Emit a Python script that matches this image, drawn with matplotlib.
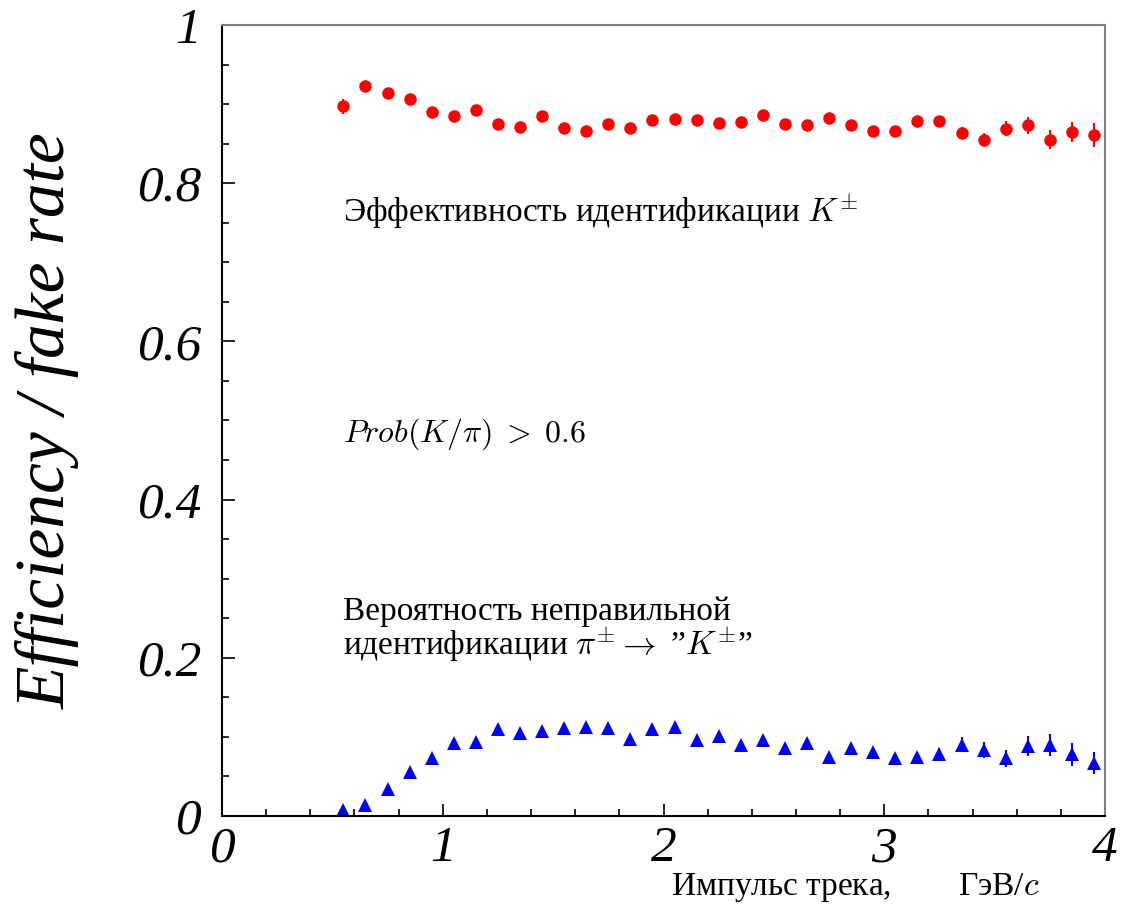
import matplotlib
matplotlib.use("Agg")
import matplotlib.pyplot as plt
from matplotlib.ticker import MultipleLocator, FuncFormatter

plt.rcParams['mathtext.fontset'] = 'cm'
plt.rcParams['font.family'] = ['Liberation Serif', 'DejaVu Serif']

# track momentum bin centres, GeV/c
p = [0.55, 0.65, 0.75, 0.85, 0.95, 1.05, 1.15, 1.25, 1.35, 1.45,
     1.55, 1.65, 1.75, 1.85, 1.95, 2.05, 2.15, 2.25, 2.35, 2.45,
     2.55, 2.65, 2.75, 2.85, 2.95, 3.05, 3.15, 3.25, 3.35, 3.45,
     3.55, 3.65, 3.75, 3.85, 3.95]

# K identification efficiency
eff = [0.897, 0.923, 0.914, 0.906, 0.890, 0.885, 0.892, 0.875, 0.871, 0.885,
       0.870, 0.866, 0.875, 0.870, 0.880, 0.881, 0.880, 0.876, 0.877, 0.886,
       0.875, 0.874, 0.883, 0.874, 0.866, 0.866, 0.879, 0.879, 0.863, 0.855,
       0.869, 0.873, 0.855, 0.865, 0.861]
eff_err = [0.009, 0.004, 0.004, 0.004, 0.004, 0.004, 0.004, 0.004, 0.004, 0.004,
           0.004, 0.004, 0.004, 0.004, 0.004, 0.004, 0.004, 0.004, 0.004, 0.004,
           0.004, 0.004, 0.004, 0.005, 0.005, 0.005, 0.005, 0.006, 0.0075, 0.009,
           0.0095, 0.011, 0.012, 0.013, 0.015]

# pi -> "K" misidentification probability
fake = [0.007, 0.0135, 0.034, 0.056, 0.073, 0.092, 0.094, 0.110, 0.105, 0.108,
        0.111, 0.112, 0.111, 0.097, 0.110, 0.113, 0.096, 0.1015, 0.090, 0.096,
        0.086, 0.092, 0.075, 0.086, 0.081, 0.073, 0.075, 0.079, 0.090, 0.083,
        0.073, 0.088, 0.090, 0.078, 0.067]
fake_err = [0.002, 0.002, 0.003, 0.003, 0.003, 0.003, 0.003, 0.003, 0.003, 0.003,
            0.003, 0.003, 0.003, 0.003, 0.003, 0.003, 0.003, 0.003, 0.003, 0.003,
            0.004, 0.004, 0.004, 0.004, 0.004, 0.004, 0.005, 0.0065, 0.0095, 0.010,
            0.0105, 0.0126, 0.0137, 0.0147, 0.0145]

fig = plt.figure(figsize=(11.23, 9.14), dpi=100)
ax = fig.add_axes([222 / 1123, 1 - 816 / 914, 883 / 1123, 791 / 914])

ax.errorbar(p, eff, yerr=eff_err, fmt='o', color='#ff0000', ms=9,
            elinewidth=1.5, capsize=0, mew=0)
ax.errorbar(p, fake, yerr=fake_err, fmt='^', color='#0000ff', ms=9.5,
            elinewidth=1.5, capsize=0, mew=0)

ax.set_xlim(0, 4)
ax.set_ylim(0, 1)
ax.xaxis.set_major_locator(MultipleLocator(1))
ax.xaxis.set_minor_locator(MultipleLocator(0.2))
ax.yaxis.set_major_locator(MultipleLocator(0.2))
ax.yaxis.set_minor_locator(MultipleLocator(0.05))
ax.xaxis.set_major_formatter(FuncFormatter(lambda v, pos: f"{v:g}"))
ax.yaxis.set_major_formatter(FuncFormatter(lambda v, pos: f"{v:g}"))

ax.tick_params(axis='both', which='both', direction='in', top=False, right=False,
               width=1.2, color='black')
ax.tick_params(axis='x', which='major', length=9, pad=7)
ax.tick_params(axis='x', which='minor', length=5)
ax.tick_params(axis='y', which='major', length=9, pad=15)
ax.tick_params(axis='y', which='minor', length=5)
for lab in ax.get_xticklabels() + ax.get_yticklabels():
    lab.set_fontstyle('italic')
    lab.set_fontsize(37)

for s in ['left', 'bottom']:
    ax.spines[s].set_linewidth(1.5)
    ax.spines[s].set_color('black')
for s in ['top', 'right']:
    ax.spines[s].set_linewidth(1.5)
    ax.spines[s].set_color('#808080')

ax.set_ylabel('Efficiency / fake rate', fontsize=50, fontstyle='italic', va='center')
ax.yaxis.set_label_coords(-0.197, 0.5)

ax.text(0.548, 0.751, 'Эффективность идентификации $K^{\\pm}$',
        fontsize=24, va='baseline', ha='left')
ax.text(0.548, 0.473, '$Prob(K/\\pi)\\;>\\;0.6$', fontsize=23, va='baseline', ha='left')
ax.text(0.548, 0.2035,
        'Вероятность неправильной\nидентификации $\\pi^{\\pm} \\rightarrow$ ”$K^{\\pm}$”',
        fontsize=24, va='baseline', ha='left', linespacing=0.92)

ax.text(0.926, -0.1, 'Импульс трека,        ГэВ/$c$', transform=ax.transAxes,
        fontsize=24, va='baseline', ha='right')

fig.savefig('out.png', dpi=100)
